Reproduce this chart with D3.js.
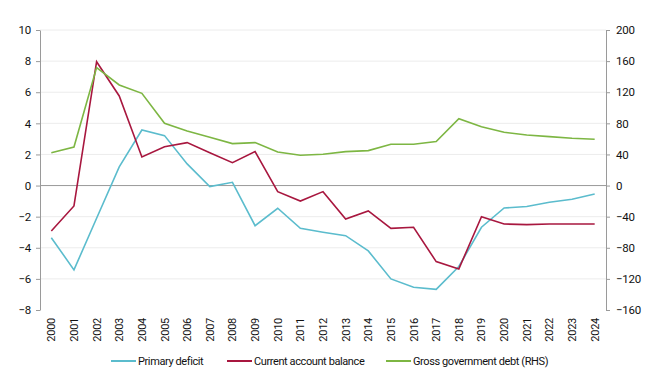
<!DOCTYPE html>
<html>
<head>
<meta charset="utf-8">
<script src="https://cdn.jsdelivr.net/npm/d3@7"></script>
<style>
  body { margin: 0; background: #fff; }
  svg text { font-family: Roboto, "Liberation Sans", Arial, sans-serif; fill: #111; letter-spacing: -0.25px; }
</style>
</head>
<body>
<svg id="chart"></svg>
<script>
// data
const years = d3.range(2000, 2025).map(String);
const primaryDeficit = [-3.35, -5.42, -2.1, 1.2, 3.57, 3.21, 1.39, -0.07, 0.21, -2.58, -1.46, -2.75, -3.0,
  -3.22, -4.2, -6.0, -6.54, -6.67, -5.2, -2.68, -1.44, -1.35, -1.07, -0.88, -0.54];
const currentAccount = [-2.92, -1.31, 7.96, 5.76, 1.84, 2.5, 2.76, 2.11, 1.47, 2.18, -0.39, -1.0, -0.39,
  -2.15, -1.63, -2.75, -2.68, -4.89, -5.36, -2.0, -2.47, -2.51, -2.47, -2.47, -2.47];
const grossDebt = [42.3, 49.6, 151.6, 129.3, 118.6, 80.1, 70.2, 62.1, 53.9, 55.2, 43.2, 38.9, 40.2,
  43.6, 44.9, 53.1, 53.1, 56.5, 86.0, 75.7, 68.5, 65.0, 62.9, 60.8, 59.5];
const leftTicks = [-8, -6, -4, -2, 0, 2, 4, 6, 8, 10];
const rightTicks = [-160, -120, -80, -40, 0, 40, 80, 120, 160, 200];
const seriesNames = ["Primary deficit", "Current account balance", "Gross government debt (RHS)"];

const width = 650, height = 385;
const margin = {top: 30, right: 44, bottom: 75, left: 40};
const colors = ["#5bbccd", "#a8173f", "#7db643"];

const svg = d3.select("#chart").attr("width", width).attr("height", height);

const x = d3.scalePoint()
  .domain(years)
  .range([margin.left, width - margin.right])
  .padding(0.5);

const yL = d3.scaleLinear().domain([-8, 10]).range([height - margin.bottom, margin.top]);
const yR = d3.scaleLinear().domain([-160, 200]).range([height - margin.bottom, margin.top]);

// gridlines
svg.append("g")
  .selectAll("line")
  .data(leftTicks.filter(d => d !== 0 && d !== -8))
  .join("line")
    .attr("x1", margin.left)
    .attr("x2", width - margin.right)
    .attr("y1", d => yL(d))
    .attr("y2", d => yL(d))
    .attr("stroke", "#ececec")
    .attr("stroke-width", 1);

// zero line
svg.append("line")
  .attr("x1", margin.left)
  .attr("x2", width - margin.right)
  .attr("y1", yL(0))
  .attr("y2", yL(0))
  .attr("stroke", "#9a9a9a")
  .attr("stroke-width", 1);

// left axis
const leftAxis = svg.append("g")
  .attr("transform", `translate(${margin.left},0)`)
  .call(d3.axisLeft(yL).tickValues(leftTicks).tickSize(4).tickSizeOuter(0).tickPadding(5));

// right axis
const rightAxis = svg.append("g")
  .attr("transform", `translate(${width - margin.right},0)`)
  .call(d3.axisRight(yR).tickValues(rightTicks).tickSize(4).tickSizeOuter(0).tickPadding(6));

[leftAxis, rightAxis].forEach(g => {
  g.select(".domain").attr("stroke", "#9a9a9a");
  g.selectAll(".tick line").attr("stroke", "#9a9a9a");
  g.selectAll(".tick text")
    .style("font-size", "11.5px")
    .style("font-family", "Roboto, sans-serif")
    .attr("fill", "#111");
});

// year labels
svg.append("g")
  .selectAll("text")
  .data(years)
  .join("text")
    .attr("transform", d => `translate(${x(d) + 4},${height - margin.bottom + 8}) rotate(-90)`)
    .attr("text-anchor", "end")
    .style("font-size", "11px")
    .text(d => d);

// lines
const allSeries = [
  {values: primaryDeficit, scale: yL},
  {values: currentAccount, scale: yL},
  {values: grossDebt, scale: yR}
];

allSeries.forEach((s, i) => {
  const line = d3.line()
    .x((d, j) => x(years[j]))
    .y(d => s.scale(d));
  svg.append("path")
    .datum(s.values)
    .attr("fill", "none")
    .attr("stroke", colors[i])
    .attr("stroke-width", 1.6)
    .attr("stroke-linejoin", "miter")
    .attr("d", line);
});

// legend
const legendX = [111, 227, 386];
const legend = svg.append("g")
  .selectAll("g")
  .data(seriesNames)
  .join("g")
    .attr("transform", (d, i) => `translate(${legendX[i]},361)`);

legend.append("line")
  .attr("x1", 0).attr("x2", 25)
  .attr("stroke", (d, i) => colors[i])
  .attr("stroke-width", 2);

legend.append("text")
  .attr("x", 27)
  .attr("dy", "0.35em")
  .style("font-size", "11px")
  .style("letter-spacing", "-0.4px")
  .text(d => d);
</script>
</body>
</html>
